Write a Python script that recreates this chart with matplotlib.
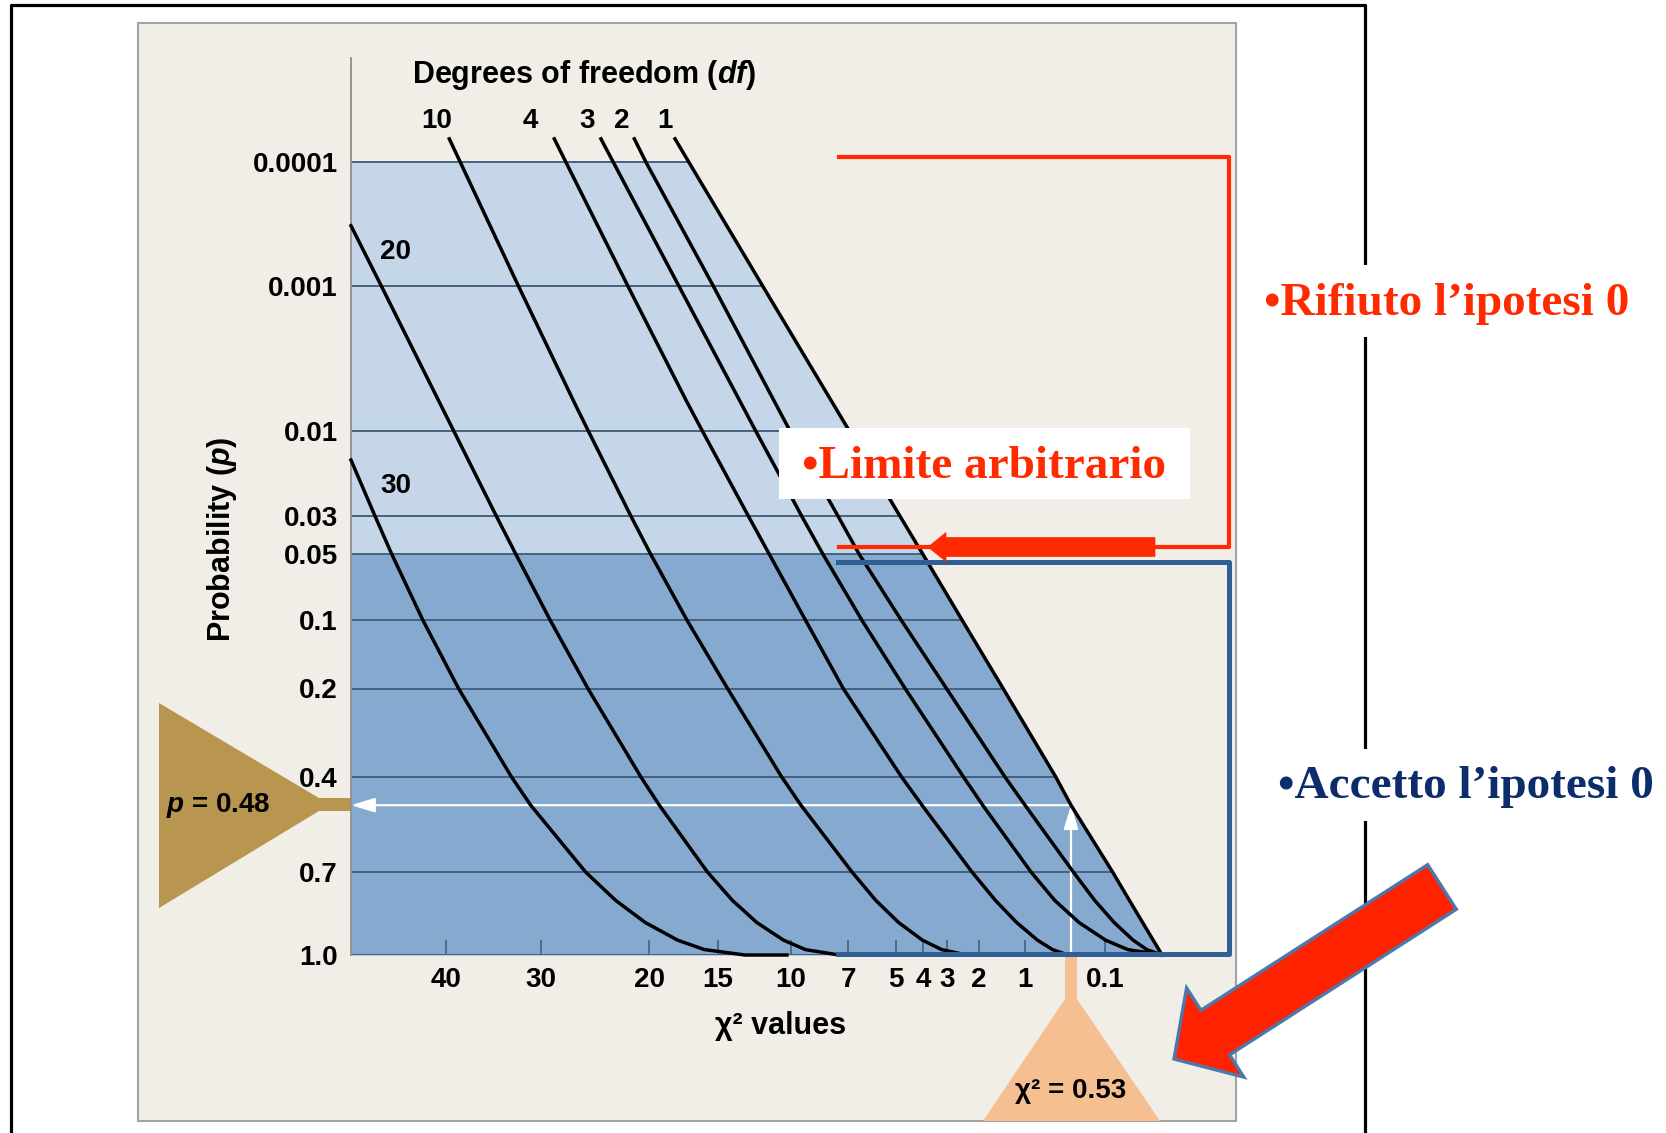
"""
Chi-square probability chart with the accept / reject zones marked on it.
"""

from math import erfc, sqrt
from statistics import NormalDist

import numpy as np
import matplotlib
matplotlib.use("Agg")
import matplotlib.pyplot as plt
from matplotlib.lines import Line2D
from matplotlib.patches import FancyArrow, Polygon, Rectangle
from matplotlib.transforms import Affine2D

# ---- data ----------------------------------------------------------------
# p levels where each curve was read
P_LEVELS = [6.1e-5, 1e-4, 1e-3, 0.01, 0.03, 0.05, 0.1, 0.2, 0.4, 0.48,
            0.7, 0.8, 0.88, 0.945, 0.98, 1.0]
P_LEVELS_B = [6.1e-5, 1e-4, 1e-3, 0.0064, 0.01, 0.03, 0.05, 0.1, 0.2, 0.4, 0.48,
              0.7, 0.8, 0.88, 0.945, 0.98, 1.0]

df1_chi2 = [18.03, 17.02, 11.82, 6.94, 4.85, 4.01, 2.51, 1.433, 0.669, 0.53,
            0.0751, 0.0327, 0.0116, 0.0024, 0.0003, 0.0]
df2_chi2 = [21.24, 20.25, 15.32, 10.06, 7.49, 6.51, 4.81, 3.02, 1.393, 1.0,
            0.490, 0.194, 0.0706, 0.0257, 0.0071, 0.0]
df3_chi2 = [24.20, 23.08, 17.75, 13.42, 12.29, 9.40, 8.26, 6.40, 4.65, 2.459, 1.907,
            0.930, 0.679, 0.398, 0.098, 0.036, 0.0]
df4_chi2 = [28.66, 27.51, 21.80, 17.22, 16.07, 12.80, 11.39, 9.20, 7.23, 4.783, 4.035,
            2.202, 1.604, 1.157, 0.858, 0.701, 0.556]
df10_chi2 = [39.63, 38.40, 32.25, 26.80, 25.37, 21.54, 19.88, 17.18, 14.29, 10.58, 9.44,
             6.82, 5.80, 4.90, 4.02, 3.21, 2.361]
df20_chi2 = [51.39, 47.60, 40.85, 39.13, 34.53, 32.52, 29.10, 25.41, 20.68, 19.21,
             15.72, 13.93, 12.22, 10.47, 9.19, 7.44]
df20_p = [3.4e-4, 1e-3, 0.0064, 0.01, 0.03, 0.05, 0.1, 0.2, 0.4, 0.48,
          0.7, 0.8, 0.88, 0.945, 0.98, 1.0]
df30_chi2 = [51.39, 48.38, 46.34, 42.67, 38.60, 32.95, 31.02, 25.63, 22.87, 20.32,
             17.84, 15.93, 13.03, 10.25]
df30_p = [0.0148, 0.03, 0.05, 0.1, 0.2, 0.4, 0.48, 0.7, 0.8, 0.88, 0.945, 0.98, 1.0, 1.0]

CURVES = {
    1: (df1_chi2, P_LEVELS),
    2: (df2_chi2, P_LEVELS),
    3: (df3_chi2, P_LEVELS_B),
    4: (df4_chi2, P_LEVELS_B),
    10: (df10_chi2, P_LEVELS_B),
    20: (df20_chi2, df20_p),
    30: (df30_chi2, df30_p),
}

X_TICKS = [40, 30, 20, 15, 10, 7, 5, 4, 3, 2, 1, 0.1]
X_TICK_LABELS = ["40", "30", "20", "15", "10", "7", "5", "4", "3", "2", "1", "0.1"]
Y_TICKS = [0.0001, 0.001, 0.01, 0.03, 0.05, 0.1, 0.2, 0.4, 0.7, 1.0]
Y_TICK_LABELS = ["0.0001", "0.001", "0.01", "0.03", "0.05", "0.1", "0.2", "0.4", "0.7", "1.0"]

ALPHA = 0.05
P_OBS = 0.48
CHI_OBS = 0.53
X_MAX = 51.39
P_MIN = 1e-5

# ---- axis calibration (the illustrator's own scales) ---------------------
X_SCALE_VALUES = [0, 0.1, 0.53, 1, 2, 3, 4, 5, 7, 10, 15, 20, 30, 40, 60]
X_SCALE_STEPS = [0, 57, 91, 137, 183, 215, 239, 266, 314, 371, 444, 513, 621, 716, 876]
Y_SCALE_VALUES = [1.0, 0.7, 0.4, 0.2, 0.1, 0.05, 0.03, 0.01, 0.001, 0.0001, 0.00001]
Y_SCALE_STEPS = [0, 83, 178, 266.5, 335.3, 401, 439, 524, 669, 792.7, 897]

# ---- styling ---------------------------------------------------------------
BEIGE = "#F1EEE8"
LIGHT_BLUE = "#C4D6E8"
DARK_BLUE = "#86AACF"
GRID = "#46617F"
RED = "#FF2A00"
BRACKET_BLUE = "#2F5F95"
NAVY = "#0C2C6B"
GOLD = "#B8964F"
PEACH = "#F6BF91"
ARROW_EDGE = "#4B79AD"

LABEL_OFFSETS = {1: (-7, 13), 2: (-9, 13), 3: (-10, 13), 4: (-17, 13),
                 10: (-9, 13), 20: (32, -19), 30: (32, -19)}

plt.rcParams["font.family"] = ["Liberation Sans", "DejaVu Sans"]
plt.rcParams["font.weight"] = "bold"
plt.rcParams["mathtext.fontset"] = "custom"
plt.rcParams["mathtext.rm"] = "Liberation Sans:bold"
plt.rcParams["mathtext.it"] = "Liberation Sans:italic:bold"
plt.rcParams["mathtext.bf"] = "Liberation Sans:bold"

_ND = NormalDist()
_p_to_z = np.vectorize(lambda v: _ND.inv_cdf(1.0 - v / 2.0), otypes=[float])
_z_to_p = np.vectorize(lambda t: erfc(t / sqrt(2.0)), otypes=[float])
_XS = np.sqrt(X_SCALE_VALUES)
_YZ = _p_to_z(np.array(Y_SCALE_VALUES))


def chi_forward(v):
    v = np.clip(np.asarray(v, dtype=float), 0, None)
    return np.interp(np.sqrt(v), _XS, X_SCALE_STEPS)


def chi_inverse(d):
    return np.interp(np.asarray(d, dtype=float), X_SCALE_STEPS, _XS) ** 2


def p_forward(p):
    p = np.clip(np.asarray(p, dtype=float), 1e-9, 1.0)
    return np.interp(_p_to_z(p), _YZ, Y_SCALE_STEPS)


def p_inverse(s):
    z = np.interp(np.asarray(s, dtype=float), Y_SCALE_STEPS, _YZ)
    return _z_to_p(z)


W, H = 1666, 1133
fig = plt.figure(figsize=(W / 100, H / 100), dpi=100)
fig.patch.set_facecolor("white")
# pixel coordinates, origin at top-left of the picture
px = Affine2D().scale(1 / W, -1 / H).translate(0, 1) + fig.transFigure


def add(artist, z):
    artist.set_transform(px)
    artist.set_zorder(z)
    fig.add_artist(artist)


# background panel and page frame
add(Rectangle((138, 23), 1098, 1098, facecolor=BEIGE, edgecolor="#A3A3A3", lw=1.5), -2)
add(Line2D([11, 11, 1365, 1365], [1140, 5, 5, 1140], color="black", lw=2.3), 1)
add(Rectangle((1352, 265), 26, 72, facecolor="white", edgecolor="none"), 1.5)
add(Rectangle((1352, 749), 26, 72, facecolor="white", edgecolor="none"), 1.5)

# ---- main chart -------------------------------------------------------------
ax = fig.add_axes([351 / W, 1 - 955 / H, 811 / W, 897 / H])
ax.set_facecolor("none")
ax.set_xscale("function", functions=(chi_forward, chi_inverse))
ax.set_yscale("function", functions=(p_forward, p_inverse))
ax.set_xlim(X_MAX, 0)
ax.set_ylim(P_MIN, 1.0)
if ax.transData.transform((0, 1.0))[1] > ax.transData.transform((0, P_MIN))[1]:
    ax.invert_yaxis()

df1_x, df1_y = CURVES[1]
i_top = df1_y.index(1e-4)
i_alpha = df1_y.index(ALPHA)
ax.fill_betweenx(df1_y[i_top:i_alpha + 1], X_MAX, df1_x[i_top:i_alpha + 1],
                 color=LIGHT_BLUE, lw=0, zorder=1)
ax.fill_betweenx(df1_y[i_alpha:], X_MAX, df1_x[i_alpha:],
                 color=DARK_BLUE, lw=0, zorder=1)

# grid lines stop at the df = 1 curve
edge = dict(zip(df1_y, df1_x))
for p in Y_TICKS:
    ax.hlines(p, edge[p], X_MAX, color=GRID, lw=1.4, zorder=2)

# white read-off arrows
arrow_style = dict(arrowstyle="-|>,head_length=0.72,head_width=0.22", mutation_scale=20,
                   color="white", lw=1.6, shrinkA=0, shrinkB=0)
ax.annotate("", xy=(X_MAX, P_OBS), xytext=(CHI_OBS, P_OBS), arrowprops=arrow_style,
            zorder=3, annotation_clip=False)
ax.annotate("", xy=(CHI_OBS, P_OBS), xytext=(CHI_OBS, 1.0), arrowprops=arrow_style,
            zorder=3, annotation_clip=False)

for df, (xs, ys) in CURVES.items():
    ax.plot(xs, ys, color="black", lw=2.5, zorder=4, clip_on=False,
            solid_joinstyle="round")
    ax.annotate(str(df), xy=(xs[0], ys[0]), xytext=LABEL_OFFSETS[df],
                textcoords="offset points", ha="center", va="center",
                fontsize=20, fontweight="bold", annotation_clip=False)

for side in ["top", "right", "bottom"]:
    ax.spines[side].set_visible(False)
ax.spines["left"].set_color("#8E8E8E")
ax.spines["left"].set_linewidth(1.3)

ax.set_xticks(X_TICKS, X_TICK_LABELS)
ax.set_yticks(Y_TICKS, Y_TICK_LABELS)
ax.tick_params(axis="x", direction="in", length=11, width=1.2, color=GRID, pad=8.5, labelsize=20)
ax.tick_params(axis="y", length=0, pad=9.5, labelsize=20)

# axis titles
fig.text(584, 75, "Degrees of freedom ($df$)", transform=px, ha="center", va="center", fontsize=22)
fig.text(222, 539, "Probability ($p$)", transform=px, ha="center", va="center",
         rotation=90, fontsize=22)
fig.text(781, 1026, "χ² values", transform=px, ha="center", va="center", fontsize=22)

# observed value markers
add(Polygon([(159, 703), (319, 798), (351, 798), (351, 811), (319, 811), (159, 908)],
            facecolor=GOLD, edgecolor="none"), -1)
fig.text(218, 805, "$p$ = 0.48", transform=px, ha="center", va="center", fontsize=20, zorder=5)
add(Polygon([(1065, 955), (1077, 955), (1077, 999), (1160, 1121), (983, 1121), (1065, 999)],
            facecolor=PEACH, edgecolor="none"), -1)
fig.text(1071, 1091, "χ² = 0.53", transform=px, ha="center", va="center", fontsize=20, zorder=5)

# reject / accept brackets
add(Line2D([839, 1229, 1229, 839], [157, 157, 547, 547], color=RED, lw=3.0), 2)
add(Line2D([838, 1229, 1229, 838], [562, 562, 954, 954], color=BRACKET_BLUE, lw=3.6), 2)
add(FancyArrow(1155, 547, -227, 0, width=19, head_width=29, head_length=18,
               length_includes_head=True, facecolor=RED, edgecolor=RED, lw=0.5), 3)

add(Rectangle((779, 428), 411, 71, facecolor="white", edgecolor="none"), 3)
fig.text(984, 467, "•Limite arbitrario", transform=px, ha="center", va="center",
         fontsize=34, family="Liberation Serif", weight="bold", color=RED, zorder=4)
fig.text(1264, 304, "•Rifiuto l’ipotesi 0", transform=px, ha="left", va="center",
         fontsize=34, family="Liberation Serif", weight="bold", color=RED, zorder=4)
fig.text(1278, 787, "•Accetto l’ipotesi 0", transform=px, ha="left", va="center",
         fontsize=34, family="Liberation Serif", weight="bold", color=NAVY, zorder=4)

add(FancyArrow(1442, 887, 1174 - 1442, 1059 - 887, width=53, head_width=106, head_length=49,
               length_includes_head=True, facecolor="#FF2200", edgecolor=ARROW_EDGE, lw=2.4), 4)

fig.savefig("out.png", dpi=100, facecolor="white")
